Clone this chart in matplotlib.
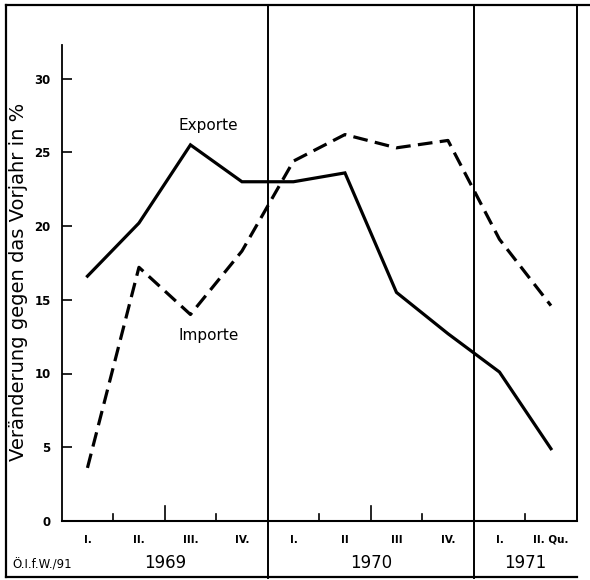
import matplotlib
matplotlib.use("Agg")
import matplotlib.pyplot as plt
import matplotlib.transforms as mtransforms
from matplotlib.lines import Line2D
import numpy as np

# ---- data ----
quarter_labels = ["I.", "II.", "III.", "IV.", "I.", "II", "III", "IV.", "I.", "II. Qu."]
year_labels = ["1969", "1970", "1971"]
year_quarters = [4, 4, 2]
exports = [16.6, 20.2, 25.5, 23.0, 23.0, 23.6, 15.5, 12.7, 10.1, 4.9]
imports = [3.6, 17.2, 14.0, 18.3, 24.4, 26.2, 25.3, 25.8, 19.1, 14.6]
yticks = [0, 5, 10, 15, 20, 25, 30]

plt.rcParams['font.family'] = ['DejaVu Sans']

W, H = 590, 580
fig = plt.figure(figsize=(W / 100, H / 100), dpi=100)
ax = fig.add_axes([61.7 / W, (H - 521) / H, (576.7 - 61.7) / W, (521 - 45) / H])

n = len(quarter_labels)
xs = np.arange(n) + 0.5
ax.plot(xs, exports, color="black", lw=2.3, solid_joinstyle="miter")
ax.plot(xs, imports, color="black", lw=2.3, linestyle=(0, (4.6, 2.3)))

ax.set_xlim(0, n)
ax.set_ylim(0, (521 - 45) / 14.75)

for s in ["top", "right", "bottom"]:
    ax.spines[s].set_visible(False)
ax.spines["left"].set_linewidth(1.3)
ax.axhline(0, color="black", lw=1.5, clip_on=False)

ax.set_yticks(yticks)
ax.set_yticklabels([str(t) for t in yticks], fontsize=8.5, fontweight="bold")
ax.tick_params(axis="y", direction="in", length=7, width=1.2, pad=8)
ax.set_xticks([])

# quarter ticks (small) and mid-year ticks (tall)
bounds = np.cumsum([0] + year_quarters)
for yi in range(len(year_labels)):
    start, stop = bounds[yi], bounds[yi + 1]
    for b in range(start + 1, stop):
        tall = (b - start) == 2 and stop - start == 4
        ax.plot([b, b], [0, 1.0 if tall else 0.45], color="black", lw=1.2)

# separators, right line and outer frame
blend = mtransforms.blended_transform_factory(ax.transData, fig.transFigure)
for b in bounds[1:-1]:
    fig.add_artist(Line2D([b, b], [2 / H, 1 - 5 / H], transform=blend, color="black", lw=1.4))
fig.add_artist(Line2D([n, n], [(H - 521) / H, 1 - 5 / H], transform=blend, color="black", lw=1.4))
fig.add_artist(Line2D([6 / W, 6 / W], [3 / H, 1 - 5 / H], transform=fig.transFigure, color="black", lw=1.6))
fig.add_artist(Line2D([6 / W, 1], [1 - 5 / H, 1 - 5 / H], transform=fig.transFigure, color="black", lw=1.6))
fig.add_artist(Line2D([6 / W, 576.7 / W], [3 / H, 3 / H], transform=fig.transFigure, color="black", lw=1.6))

# quarter and year labels
for i, q in enumerate(quarter_labels):
    fig.text(xs[i], 1 - 540 / H, q, transform=blend, fontsize=7.5, fontweight="bold",
             ha="center", va="center")
for yi, yl in enumerate(year_labels):
    fig.text((bounds[yi] + bounds[yi + 1]) / 2, 1 - 563 / H, yl, transform=blend,
             fontsize=12, ha="center", va="center")

fig.text(12 / W, 1 - 565 / H, "Ö.I.f.W./91", fontsize=8.5, ha="left", va="center")

fig.text(19 / W, 1 - 282 / H, "Veränderung gegen das Vorjahr in %", rotation=90,
         fontsize=14, ha="center", va="center")

ax.text(2.85, exports[2] + 1.3, "Exporte", fontsize=11, ha="center", va="center")
ax.text(2.85, imports[2] - 1.4, "Importe", fontsize=11, ha="center", va="center")

fig.savefig("out.png", dpi=100)
